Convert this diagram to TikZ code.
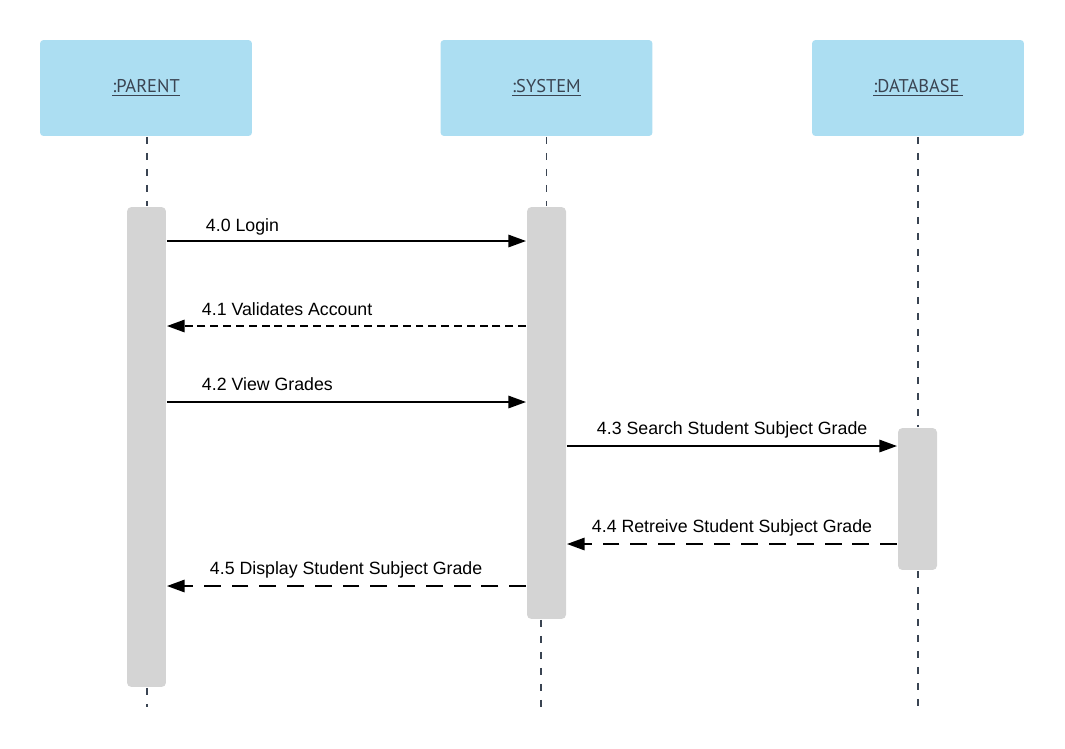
\documentclass[tikz,border=0pt]{standalone}
\usepackage{fontspec}
\setmainfont{Liberation Sans}
\newfontfamily\hdrfont{PT Sans}
\usepackage{xcolor}
\usetikzlibrary{positioning,arrows.meta}
\definecolor{hdrblue}{RGB}{172,222,242}
\definecolor{bargray}{RGB}{212,212,212}
\definecolor{lifegray}{RGB}{58,68,82}

\begin{document}
\begin{tikzpicture}[x=0.02cm,y=-0.02cm,>={Triangle[length=10pt,width=7pt]},line width=1.1pt]
\tikzstyle{actor}=[rectangle,rounded corners=2pt,fill=hdrblue,minimum width=4.24cm,minimum height=1.92cm,text=lifegray,font=\hdrfont\fontsize{10.5}{12}\selectfont]
\tikzstyle{bar}=[rectangle,rounded corners=2.5pt,fill=bargray,minimum width=0.78cm,inner sep=0pt]
\tikzstyle{life}=[lifegray,line width=1.1pt,dash pattern=on 4pt off 5.1pt]
\tikzstyle{msg}=[->,black]
\tikzstyle{reply}=[->,black,dash pattern=on 4.5pt off 2.8pt]
\tikzstyle{longreply}=[->,black,dash pattern=on 9.6pt off 6.2pt]
\tikzstyle{lbl}=[anchor=base west,inner sep=0pt,font=\fontsize{10.1}{12}\selectfont]
\useasboundingbox (0,0) rectangle (1065,748);
% participants
\node[actor] (parent) at (146,88) {\underline{:PARENT}};
\node[actor] (system) at (546.5,88) {\underline{:SYSTEM}};
\node[actor] (database) at (918,88) {\underline{:DATABASE\,}};
% activation bars
\node[bar,minimum height=9.6cm] (parbar) at (146.5,447) {};
\node[bar,minimum height=8.24cm] (sysbar) at (546.5,413) {};
\node[bar,minimum height=2.84cm] (dbbar) at (917.5,499) {};
% lifelines
\coordinate (parend) at (147,707);
\coordinate (sysend) at (541,707);
\coordinate (dbend) at (918,707);
\draw[life] (parent.south -| parend) -- (parbar.north -| parend);
\draw[life] (parbar.south -| parend) -- (parend);
\draw[life] (system.south) -- (sysbar.north);
\draw[life] (sysbar.south -| sysend) -- (sysend);
\draw[life] (database.south -| dbend) -- (dbbar.north -| dbend);
\draw[life] (dbbar.south -| dbend) -- (dbend);
% messages
\coordinate (m0) at (0,241);
\coordinate (m1) at (0,326);
\coordinate (m2) at (0,402);
\coordinate (m3) at (0,446);
\coordinate (m4) at (0,544);
\coordinate (m5) at (0,586);
\draw[msg] (parbar.east |- m0) -- (sysbar.west |- m0);
\draw[reply] (sysbar.west |- m1) -- (parbar.east |- m1);
\draw[msg] (parbar.east |- m2) -- (sysbar.west |- m2);
\draw[msg] (sysbar.east |- m3) -- (dbbar.west |- m3);
\draw[longreply] (dbbar.west |- m4) -- (sysbar.east |- m4);
\draw[longreply] (sysbar.west |- m5) -- (parbar.east |- m5);
% labels
\node[lbl] at (205,231) {4.0 Login};
\node[lbl] at (201,315) {4.1 Validates Account};
\node[lbl] at (201,390) {4.2 View Grades};
\node[lbl] at (596,434) {4.3 Search Student Subject Grade};
\node[lbl] at (591,532) {4.4 Retreive Student Subject Grade};
\node[lbl] at (209,574) {4.5 Display Student Subject Grade};
\end{tikzpicture}
\end{document}
